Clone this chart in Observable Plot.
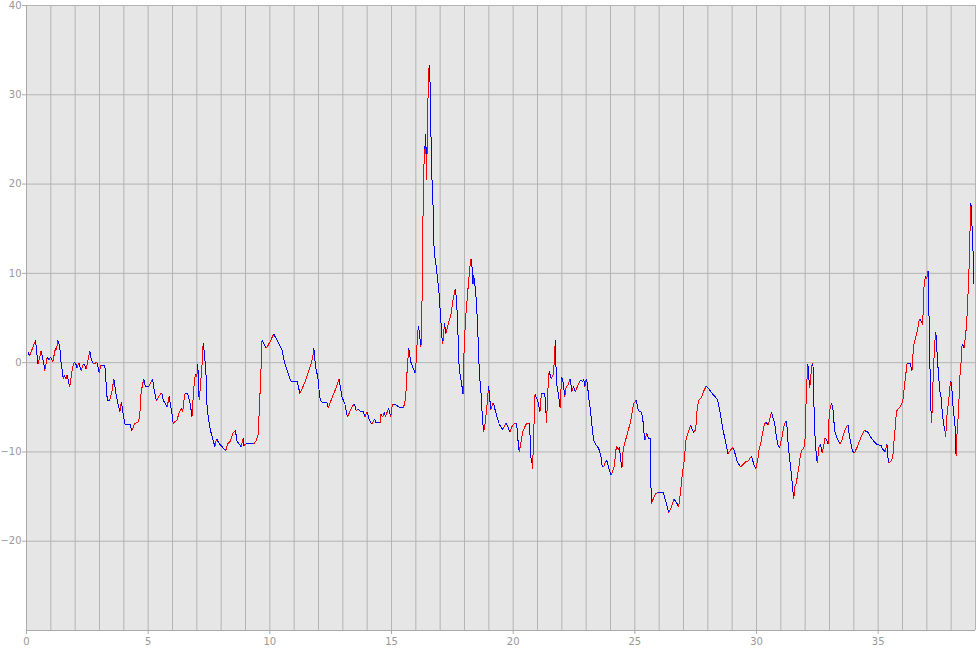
<!DOCTYPE html>
<html>
<head>
<meta charset="utf-8">
<script src="https://cdn.jsdelivr.net/npm/d3@7"></script>
<script src="https://cdn.jsdelivr.net/npm/@observablehq/plot@0.6"></script>
<style>
  html, body { margin: 0; padding: 0; background: #ffffff; }
  #chart svg { display: block; }
</style>
</head>
<body>
<div id="chart"></div>
<script>
const xs = [0.08,0.12,0.37,0.47,0.6,0.71,0.75,0.85,0.92,0.99,1.08,1.19,1.23,1.29,1.37,1.42,1.47,1.51,1.55,1.62,1.67,1.73,1.78,1.88,1.95,2.01,2.08,2.15,2.25,2.33,2.38,2.45,2.53,2.6,2.67,2.74,2.9,2.99,3.05,3.22,3.29,3.32,3.42,3.52,3.59,3.7,3.78,3.84,3.9,3.97,4.04,4.25,4.33,4.45,4.6,4.66,4.71,4.82,4.88,5.03,5.18,5.25,5.34,5.48,5.56,5.62,5.78,5.86,5.99,6.03,6.19,6.26,6.36,6.42,6.5,6.63,6.74,6.8,6.86,6.9,6.95,7.0,7.04,7.08,7.1,7.15,7.22,7.26,7.32,7.4,7.42,7.49,7.56,7.63,7.74,7.81,7.9,8.04,8.18,8.27,8.38,8.48,8.59,8.64,8.73,8.82,8.9,8.93,9.0,9.34,9.45,9.52,9.56,9.62,9.68,9.86,10.0,10.16,10.26,10.37,10.5,10.58,10.66,10.78,10.86,11.12,11.18,11.23,11.47,11.7,11.77,11.81,11.88,11.97,12.05,12.11,12.36,12.4,12.56,12.74,12.84,12.9,12.97,13.1,13.14,13.19,13.37,13.47,13.55,13.64,13.74,13.85,13.9,13.99,14.08,14.19,14.3,14.37,14.53,14.56,14.64,14.71,14.75,14.88,14.97,15.04,15.15,15.33,15.49,15.58,15.63,15.68,15.71,15.79,15.9,15.98,16.04,16.07,16.11,16.21,16.25,16.29,16.33,16.37,16.39,16.41,16.44,16.52,16.56,16.6,16.63,16.67,16.73,16.75,16.8,16.85,16.89,16.93,16.97,17.0,17.07,17.11,17.13,17.18,17.23,17.34,17.45,17.55,17.63,17.68,17.73,17.75,17.8,17.85,17.9,17.94,17.97,18.0,18.05,18.12,18.2,18.25,18.29,18.35,18.37,18.41,18.48,18.54,18.58,18.62,18.67,18.71,18.76,18.78,18.84,18.89,18.93,18.99,19.05,19.08,19.16,19.19,19.23,19.3,19.36,19.41,19.49,19.57,19.63,19.71,19.78,19.87,19.94,20.01,20.12,20.15,20.21,20.25,20.32,20.39,20.48,20.55,20.66,20.69,20.73,20.77,20.8,20.84,20.87,20.9,20.95,21.02,21.1,21.16,21.3,21.34,21.37,21.43,21.48,21.51,21.57,21.64,21.69,21.73,21.78,21.86,21.93,21.99,22.05,22.12,22.18,22.25,22.35,22.41,22.48,22.55,22.65,22.75,22.86,22.9,22.95,23.0,23.05,23.1,23.16,23.23,23.27,23.31,23.41,23.47,23.54,23.61,23.65,23.71,23.77,23.84,23.95,24.02,24.09,24.16,24.22,24.26,24.33,24.36,24.43,24.47,24.52,24.58,24.65,24.72,24.81,24.88,24.95,25.05,25.15,25.27,25.33,25.38,25.42,25.49,25.56,25.65,25.67,25.75,25.85,25.95,26.17,26.25,26.3,26.39,26.47,26.61,26.72,26.8,26.86,26.9,26.95,27.03,27.1,27.17,27.29,27.36,27.43,27.5,27.56,27.62,27.74,27.81,27.93,28.06,28.19,28.36,28.42,28.49,28.56,28.63,28.7,28.79,28.83,28.9,29.03,29.1,29.2,29.34,29.45,29.58,29.67,29.75,29.8,29.9,29.97,30.07,30.1,30.17,30.24,30.33,30.4,30.48,30.57,30.61,30.67,30.74,30.81,30.89,30.95,31.04,31.13,31.21,31.26,31.3,31.35,31.4,31.44,31.48,31.51,31.53,31.58,31.62,31.67,31.73,31.78,31.85,31.95,32.0,32.02,32.05,32.11,32.16,32.19,32.27,32.32,32.35,32.4,32.46,32.5,32.56,32.63,32.7,32.77,32.8,32.88,32.94,32.99,33.04,33.09,33.15,33.21,33.3,33.42,33.5,33.62,33.72,33.76,33.83,33.94,34.03,34.13,34.26,34.35,34.44,34.58,34.71,34.85,34.92,35.12,35.19,35.29,35.36,35.42,35.52,35.6,35.63,35.7,35.75,35.8,35.9,36.01,36.1,36.19,36.32,36.39,36.45,36.51,36.56,36.61,36.68,36.73,36.79,36.83,36.88,36.94,36.98,37.01,37.05,37.09,37.14,37.17,37.2,37.26,37.32,37.37,37.4,37.44,37.48,37.52,37.59,37.62,37.66,37.7,37.76,37.78,37.8,37.84,37.88,37.92,37.95,37.99,38.03,38.07,38.14,38.18,38.2,38.23,38.27,38.32,38.37,38.41,38.45,38.49,38.53,38.59,38.64,38.68,38.72,38.77,38.81,38.85,38.89,38.92];
const ys = [1.2,0.7,2.5,-0.2,1.3,-0.1,-0.9,0.6,0.3,0.6,0.1,1.6,1.4,2.5,1.7,0.0,-0.9,-1.8,-1.4,-1.8,-1.4,-2.2,-2.7,-0.7,0.0,0.0,-0.6,0.0,-0.9,-0.2,-0.2,-0.7,0.3,1.3,0.3,-0.1,0.0,-1.2,-0.3,-0.3,-3.1,-4.2,-4.2,-3.1,-1.8,-3.9,-4.8,-5.5,-4.4,-5.7,-6.9,-6.9,-7.6,-6.8,-6.7,-5.7,-3.3,-1.8,-2.65,-2.65,-1.8,-3.1,-4.3,-3.6,-3.4,-4.2,-5.0,-3.8,-5.9,-6.8,-6.4,-5.7,-5.1,-5.5,-3.5,-3.5,-4.8,-6.1,-3.5,-2.0,-1.3,-1.6,-0.1,-3.5,-4.2,-2.5,0.0,2.2,0.8,-2.2,-5.0,-6.5,-7.6,-8.3,-9.4,-8.5,-9.0,-9.4,-9.9,-9.1,-8.8,-7.9,-7.6,-8.7,-9.1,-9.4,-8.5,-9.3,-9.1,-9.1,-8.7,-8.0,-5.7,-2.0,2.5,1.6,2.3,3.2,2.7,2.1,1.4,0.3,-0.5,-1.4,-2.1,-2.1,-2.7,-3.5,-2.0,-0.1,0.8,1.6,-0.5,-1.6,-3.8,-4.4,-4.5,-5.1,-3.9,-2.7,-1.8,-2.7,-3.9,-4.7,-5.5,-6.1,-5.0,-4.6,-5.4,-5.2,-5.5,-5.5,-6.1,-5.5,-6.3,-6.9,-6.3,-6.75,-6.75,-5.7,-6.1,-5.5,-6.1,-5.1,-6.1,-4.6,-4.7,-5.0,-5.1,-4.0,-1.4,0.6,1.6,0.1,-0.7,-1.2,1.4,3.2,4.1,1.75,5.9,15.6,21.9,24.3,23.4,25.6,20.4,32.7,33.3,30.1,24.0,19.9,16.1,12.6,11.5,10.5,9.4,8.5,7.2,5.9,2.9,2.1,2.9,4.4,3.2,4.4,5.5,7.4,8.3,6.6,3.6,0.6,-1.0,-1.8,-2.7,-3.5,0.3,2.5,5.1,7.5,10.1,11.5,11.6,8.8,9.8,9.2,7.2,4.2,0.8,-1.6,-2.9,-5.0,-7.0,-7.8,-7.0,-5.7,-4.6,-2.6,-4.4,-5.3,-4.6,-4.5,-5.0,-5.7,-6.3,-6.8,-7.2,-7.5,-7.2,-6.75,-7.2,-7.8,-7.2,-6.9,-6.75,-7.0,-9.1,-10.0,-8.9,-7.8,-7.2,-6.8,-6.75,-7.9,-10.6,-11.1,-11.9,-7.9,-6.0,-3.5,-3.9,-4.4,-5.5,-3.5,-3.5,-5.0,-6.8,-2.9,-0.9,-1.3,-1.8,-1.4,0.1,2.5,-2.35,-3.5,-5.1,-1.6,-2.2,-3.8,-2.7,-2.5,-1.8,-3.3,-2.6,-3.3,-2.6,-2.0,-2.1,-1.8,-2.7,-1.8,-2.4,-3.8,-5.0,-6.8,-7.8,-8.7,-9.25,-9.4,-9.8,-10.6,-11.5,-11.7,-11.3,-10.9,-12.0,-12.6,-12.2,-11.5,-9.8,-9.4,-9.8,-9.4,-11.1,-11.8,-9.8,-9.0,-8.4,-7.6,-6.85,-5.7,-4.6,-4.2,-5.4,-5.5,-6.4,-8.0,-8.7,-7.9,-8.5,-8.5,-15.8,-15.3,-14.7,-14.5,-14.5,-15.4,-15.8,-16.8,-16.4,-15.3,-15.7,-16.2,-14.9,-13.9,-12.5,-11.0,-8.7,-8.0,-7.0,-7.5,-7.8,-7.5,-5.2,-4.2,-3.9,-3.3,-2.65,-3.0,-3.5,-4.0,-4.4,-5.4,-6.5,-7.6,-8.5,-9.7,-10.2,-9.9,-9.5,-10.0,-11.0,-11.7,-11.4,-11.05,-11.0,-10.6,-10.5,-11.5,-11.9,-10.6,-9.8,-9.1,-8.0,-6.85,-6.7,-7.0,-6.1,-5.5,-6.1,-6.7,-8.2,-9.3,-9.5,-8.4,-7.1,-6.5,-7.3,-9.1,-10.5,-11.6,-12.7,-13.8,-14.8,-15.3,-13.8,-13.6,-12.9,-11.9,-10.8,-9.9,-9.5,-8.4,-6.3,-3.1,-0.1,-2.0,-2.8,-0.3,-0.1,-3.9,-8.0,-10.5,-11.2,-9.5,-9.1,-10.1,-9.3,-8.4,-8.6,-9.1,-5.6,-5.0,-4.5,-5.4,-7.6,-8.4,-9.1,-8.8,-7.6,-7.1,-7.0,-8.4,-9.9,-10.1,-9.5,-8.6,-8.0,-7.6,-7.8,-8.4,-8.9,-9.1,-9.3,-9.7,-10.0,-9.1,-11.2,-11.1,-10.6,-9.5,-7.3,-5.5,-5.2,-5.0,-4.4,-2.1,-0.1,-0.1,-0.9,1.8,2.5,3.0,3.6,4.7,4.9,4.5,4.2,8.4,9.7,9.4,9.6,10.3,5.1,-2.1,-5.3,-6.8,-1.7,2.1,3.4,2.1,0.1,-1.2,-2.9,-4.0,-5.1,-6.2,-7.0,-7.9,-8.3,-6.8,-5.5,-4.6,-3.6,-2.7,-2.1,-3.0,-4.7,-6.6,-7.7,-10.4,-8.4,-7.0,-4.2,-1.0,0.1,2.1,1.9,1.7,3.0,4.5,7.1,9.1,14.3,17.9,15.6,13.8,8.8];

const xTicks = [0, 5, 10, 15, 20, 25, 30, 35];
const yTicks = [-20, -10, 0, 10, 20, 30, 40];
const xGrid = d3.range(0, 40, 1);
const yGrid = [-30, -20, -10, 0, 10, 20, 30, 40];

const pts = xs.map((x, i) => ({x, y: ys[i]}));
const segs = d3.pairs(pts).map(([a, b]) => ({
  x1: a.x, y1: a.y, x2: b.x, y2: b.y,
  c: b.y > a.y ? "#ff0000" : "#0000ff"
}));

const chart = Plot.plot({
  width: 980,
  height: 650,
  marginLeft: 26,
  marginRight: 5,
  marginTop: 5,
  marginBottom: 20,
  style: {fontFamily: "DejaVu Sans, sans-serif", fontSize: "10px", color: "#999999", background: "#ffffff"},
  x: {domain: [0, 39]},
  y: {domain: [-30, 40]},
  marks: [
    Plot.frame({fill: "#e6e6e6", stroke: "none"}),
    Plot.gridX(xGrid, {stroke: "#b4b4b4", strokeOpacity: 1}),
    Plot.gridY(yGrid, {stroke: "#b4b4b4", strokeOpacity: 1}),
    Plot.axisX(xTicks, {tickSize: 4, tickPadding: 3, stroke: "#aaaaaa", fill: "#999999", fontSize: 10, label: null}),
    Plot.axisY(yTicks, {tickSize: 4, tickPadding: 1, stroke: "#aaaaaa", fill: "#999999", fontSize: 10, label: null}),
    Plot.ruleX([0], {stroke: "#aaaaaa"}),
    Plot.ruleY([-30], {stroke: "#aaaaaa"}),
    Plot.link(segs, {x1: "x1", y1: "y1", x2: "x2", y2: "y2", stroke: "c", strokeWidth: 1, shapeRendering: "crispEdges"})
  ]
});
document.getElementById("chart").appendChild(chart);
</script>
</body>
</html>
